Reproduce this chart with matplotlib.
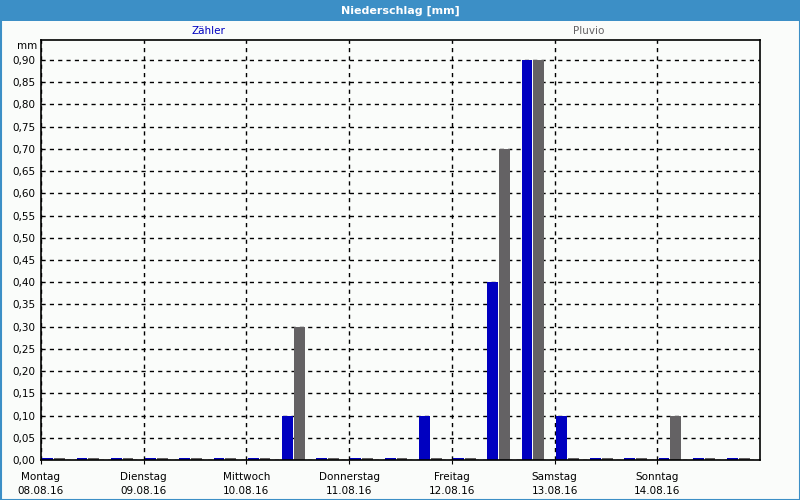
import matplotlib
matplotlib.use("Agg")
import matplotlib.pyplot as plt
from matplotlib.patches import Rectangle
import numpy as np

# --- data ---
days = ["Montag", "Dienstag", "Mittwoch", "Donnerstag", "Freitag", "Samstag", "Sonntag"]
dates = ["08.08.16", "09.08.16", "10.08.16", "11.08.16", "12.08.16", "13.08.16", "14.08.16"]
# 8-hour periods, 21 per week
zaehler = [0, 0, 0, 0, 0, 0, 0, 0.10, 0, 0, 0, 0.10, 0, 0.40, 0.90, 0.10, 0, 0, 0, 0, 0]
pluvio  = [0, 0, 0, 0, 0, 0, 0, 0.30, 0, 0, 0, 0, 0, 0.70, 0.90, 0, 0, 0, 0.10, 0, 0]
yticks = [i * 0.05 for i in range(19)]

BLUE = "#0000c0"
GRAY = "#646264"
FRAME = "#3c8fc6"
BG = "#fafcfa"

fig = plt.figure(figsize=(8, 5), dpi=100, facecolor=BG)
ax = fig.add_axes([41/800, 1-460/500, (760-41)/800, (460-40)/500])
ax.set_facecolor(BG)

n = len(zaehler)
period = 1/3
x0 = np.arange(n) * period
w = 0.105
stub = 0.004
zh = [max(v, stub) for v in zaehler]
ph = [max(v, stub) for v in pluvio]
ax.bar(x0 + 0.013, zh, width=w, align="edge", color=BLUE, zorder=3, linewidth=0)
ax.bar(x0 + 0.128, ph, width=w, align="edge", color=GRAY, zorder=3, linewidth=0)

ax.set_xlim(0, 7)
ax.set_ylim(0, 0.945)
ax.set_yticks(yticks)
ax.set_yticklabels([f"{v:.2f}".replace(".", ",") for v in yticks], fontsize=7.5)
ax.set_xticks(range(7))
ax.set_xticklabels([f"{d}\n{t}" for d, t in zip(days, dates)], fontsize=7.5, linespacing=1.45)
ax.tick_params(axis="y", length=0, pad=4, colors="black")
ax.tick_params(axis="x", length=3, direction="out", pad=6, colors="black")

ax.grid(True, color="black", linestyle=(0, (3, 3)), linewidth=1, zorder=1)
for s in ax.spines.values():
    s.set_color("black")
    s.set_linewidth(1.2)
    s.set_zorder(4)

# mm unit label
fig.text(37/800, 1-46/500, "mm", ha="right", va="center", fontsize=7.5)

# legend labels
fig.text(208/800, 1-31/500, "Zähler", ha="center", va="center", fontsize=7.5, color=BLUE)
fig.text(589/800, 1-31/500, "Pluvio", ha="center", va="center", fontsize=7.5, color=GRAY)

# title bar
fig.patches.append(Rectangle((0, 1-21/500), 1, 21/500, transform=fig.transFigure,
                             facecolor=FRAME, edgecolor="none", zorder=0))
fig.text(0.5, 1-10.5/500, "Niederschlag [mm]", ha="center", va="center",
         fontsize=8, fontweight="bold", color="white")
# frame border
fig.patches.append(Rectangle((0.5/800, 0.5/500), 1-1/800, 1-1/500, transform=fig.transFigure,
                             facecolor="none", edgecolor=FRAME, linewidth=1.5, zorder=0))

fig.savefig("out.png", dpi=100, facecolor=BG)
